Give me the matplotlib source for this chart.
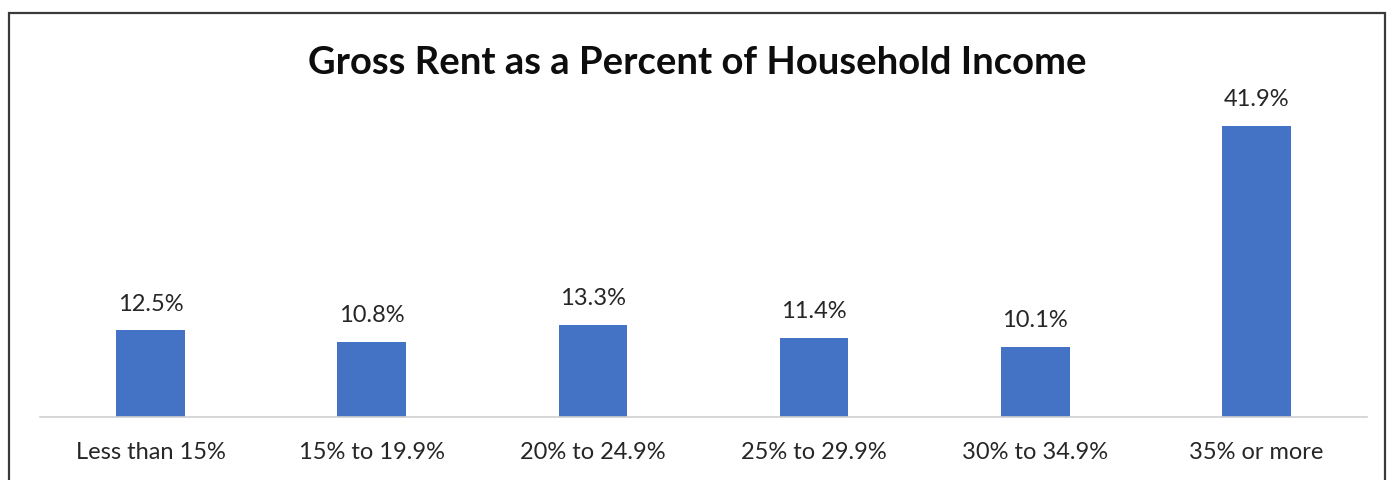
import matplotlib
matplotlib.use("Agg")
import matplotlib.pyplot as plt
from matplotlib.patches import Rectangle

categories = ["Less than 15%", "15% to 19.9%", "20% to 24.9%", "25% to 29.9%", "30% to 34.9%", "35% or more"]
shares = [12.5, 10.8, 13.3, 11.4, 10.1, 41.9]
title = "Gross Rent as a Percent of Household Income"

plt.rcParams["font.family"] = ["Lato", "DejaVu Sans"]

W, H = 1387, 481
fig = plt.figure(figsize=(W / 100, H / 100), dpi=100)

# chart frame (bottom edge falls below the canvas)
fig.patches.append(Rectangle((9 / W, -0.05), (1385 - 9) / W, 1.05 - 14 / H,
                             transform=fig.transFigure, fill=False,
                             edgecolor="#3a3a3a", linewidth=1.6))

ax_left, ax_right = 40, 1367
ax_bottom, ax_top = 418, 105
ax = fig.add_axes([ax_left / W, 1 - ax_bottom / H, (ax_right - ax_left) / W, (ax_bottom - ax_top) / H])

x = range(len(categories))
bars = ax.bar(x, shares, width=0.31, color="#4472C4")
ax.set_xlim(-0.5, len(categories) - 0.5)
ax.set_ylim(0, (ax_bottom - ax_top) / ((418 - 127) / 41.9))

for rect, v in zip(bars, shares):
    ax.annotate(f"{v:.1f}%", (rect.get_x() + rect.get_width() / 2, v),
                xytext=(0, 12), textcoords="offset points",
                ha="center", va="bottom", fontsize=17, color="#262626")

ax.set_xticks(list(x))
ax.set_xticklabels(categories, fontsize=17, color="#262626")
ax.tick_params(axis="x", length=0, pad=17)
ax.set_yticks([])
for s in ["left", "right", "top"]:
    ax.spines[s].set_visible(False)
ax.spines["bottom"].set_color("#d0d0d0")
ax.spines["bottom"].set_linewidth(1.2)

fig.text(697 / W, 1 - 63 / H, title, ha="center", va="center",
         fontsize=27.5, fontweight="bold", color="#0d0d0d")

fig.savefig("out.png", dpi=100)
